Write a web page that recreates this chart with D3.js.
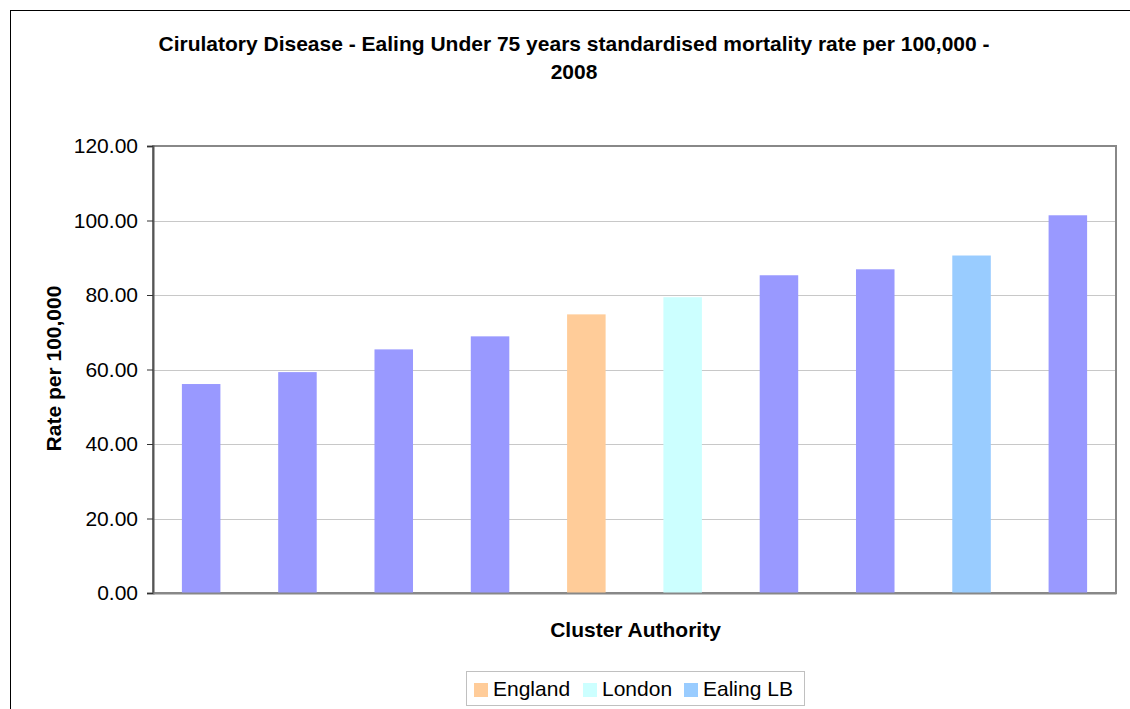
<!DOCTYPE html>
<html>
<head>
<meta charset="utf-8">
<script src="https://cdn.jsdelivr.net/npm/d3@7/dist/d3.min.js"></script>
<style>
  html, body { margin: 0; padding: 0; background: #ffffff; }
  svg { display: block; font-family: Arial, "Liberation Sans", sans-serif; }
</style>
</head>
<body>
<svg id="chart" width="1130" height="709"></svg>
<script>
// Under-75 circulatory disease mortality, 2008, by cluster authority
const categories = [
  "Cluster authority 1", "Cluster authority 2", "Cluster authority 3", "Cluster authority 4",
  "England", "London",
  "Cluster authority 5", "Cluster authority 6",
  "Ealing LB",
  "Cluster authority 7"
];
const rates = [56.1, 59.3, 65.4, 68.9, 74.8, 79.4, 85.3, 86.9, 90.6, 101.4];
const groups = ["Cluster", "Cluster", "Cluster", "Cluster", "England", "London", "Cluster", "Cluster", "Ealing LB", "Cluster"];
const yTicks = [0, 20, 40, 60, 80, 100, 120];
const legendItems = ["England", "London", "Ealing LB"];

const titleLines = [
  "Cirulatory Disease - Ealing Under 75 years standardised mortality rate per 100,000 -",
  "2008"
];
const yTitle = "Rate per 100,000";
const xTitle = "Cluster Authority";

const colour = d3.scaleOrdinal()
  .domain(["Cluster", "England", "London", "Ealing LB"])
  .range(["#9999ff", "#ffcc99", "#ccffff", "#99ccff"]);

const svg = d3.select("#chart");
const W = 1130, H = 709;
const plot = { left: 153, right: 1116, top: 146, bottom: 593 };
const FONT = 21;

// outer chart frame (runs off the bottom/right of the view)
svg.append("rect")
  .attr("x", 10.5).attr("y", 10.5)
  .attr("width", W + 20).attr("height", H + 20)
  .attr("fill", "#ffffff").attr("stroke", "#000000").attr("stroke-width", 1);

// title
const title = svg.append("text")
  .attr("text-anchor", "middle")
  .attr("font-weight", "bold")
  .attr("font-size", FONT)
  .attr("fill", "#000");
titleLines.forEach((t, i) => {
  title.append("tspan").attr("x", 574).attr("y", 51 + i * 28).text(t);
});

const x = d3.scaleBand()
  .domain(categories)
  .range([plot.left, plot.right])
  .paddingInner(0.6)
  .paddingOuter(0.3);

const y = d3.scaleLinear()
  .domain([0, 120])
  .range([plot.bottom, plot.top]);

// gridlines
svg.append("g")
  .selectAll("line")
  .data(yTicks.filter(v => v > 0 && v < 120))
  .join("line")
  .attr("x1", plot.left).attr("x2", plot.right)
  .attr("y1", d => Math.round(y(d)) + 0.5).attr("y2", d => Math.round(y(d)) + 0.5)
  .attr("stroke", "#c8c8c8").attr("stroke-width", 1);

// plot area border
svg.append("rect")
  .attr("x", plot.left).attr("y", plot.top)
  .attr("width", plot.right - plot.left).attr("height", plot.bottom - plot.top)
  .attr("fill", "none").attr("stroke", "#888888").attr("stroke-width", 2);

// bars
svg.append("g")
  .selectAll("rect")
  .data(categories)
  .join("rect")
  .attr("x", d => x(d))
  .attr("width", x.bandwidth())
  .attr("y", (d, i) => y(rates[i]))
  .attr("height", (d, i) => y(0) - y(rates[i]))
  .attr("fill", (d, i) => colour(groups[i]));

// y axis
const yAxis = svg.append("g")
  .attr("transform", `translate(${plot.left},0)`)
  .call(d3.axisLeft(y).tickValues(yTicks).tickFormat(d3.format(".2f")).tickSize(6).tickPadding(9));
yAxis.select(".domain").attr("stroke", "#555555").attr("stroke-width", 2);
yAxis.selectAll(".tick line").attr("stroke", "#333333");
yAxis.selectAll(".tick text")
  .attr("font-size", FONT)
  .attr("font-family", "Arial, 'Liberation Sans', sans-serif")
  .attr("fill", "#000");

// x axis (no category labels)
const xAxis = svg.append("g")
  .attr("transform", `translate(0,${plot.bottom})`)
  .call(d3.axisBottom(x).tickSize(0).tickFormat(""));
xAxis.select(".domain").attr("stroke", "#888888").attr("stroke-width", 2);

// axis titles
svg.append("text")
  .attr("transform", `translate(61,${(plot.top + plot.bottom) / 2 - 1}) rotate(-90)`)
  .attr("text-anchor", "middle")
  .attr("font-weight", "bold")
  .attr("font-size", FONT)
  .text(yTitle);

svg.append("text")
  .attr("x", (plot.left + plot.right) / 2 + 1)
  .attr("y", 637)
  .attr("text-anchor", "middle")
  .attr("font-weight", "bold")
  .attr("font-size", FONT)
  .text(xTitle);

// legend
const legend = svg.append("g");
legend.append("rect")
  .attr("x", 466.5).attr("y", 671.5)
  .attr("width", 338).attr("height", 34)
  .attr("fill", "#ffffff").attr("stroke", "#c0c0c0").attr("stroke-width", 1);
const legendX = [474, 583, 684];
const items = legend.selectAll("g.item")
  .data(legendItems)
  .join("g")
  .attr("class", "item")
  .attr("transform", (d, i) => `translate(${legendX[i]},0)`);
items.append("rect")
  .attr("x", 0).attr("y", 683)
  .attr("width", 14).attr("height", 14)
  .attr("fill", d => colour(d));
items.append("text")
  .attr("x", 19).attr("y", 696)
  .attr("font-size", FONT)
  .text(d => d);
</script>
</body>
</html>
